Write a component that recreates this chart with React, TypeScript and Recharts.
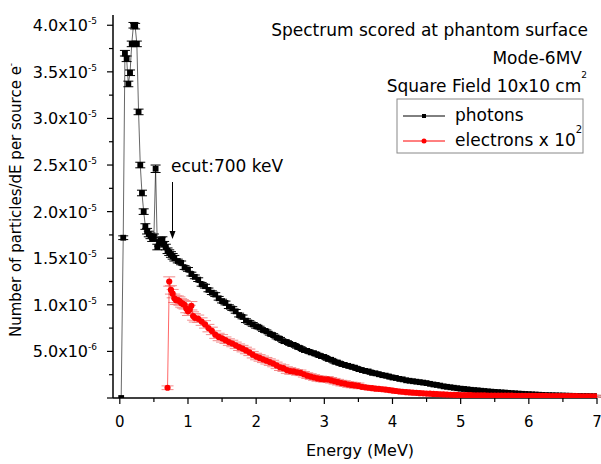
import React from 'react';
import { ComposedChart, Scatter, XAxis, YAxis, ErrorBar } from 'recharts';

const FONT = '"DejaVu Sans", "Liberation Sans", Arial, sans-serif';

// Energy bins (MeV) and values in units of 1e-5 particles/dE per source electron
const photonEnergy = [
  0.02, 0.05, 0.075, 0.1, 0.125, 0.15, 0.175, 0.2, 0.225, 0.25,
  0.275, 0.3, 0.325, 0.35, 0.375, 0.4, 0.425, 0.45, 0.475, 0.5,
  0.525, 0.55, 0.575, 0.6, 0.625, 0.65, 0.675, 0.7, 0.725, 0.75,
  0.775, 0.8,
  0.85, 0.9, 0.95, 1.0, 1.05, 1.1, 1.15, 1.2, 1.25, 1.3,
  1.35, 1.4, 1.45, 1.5, 1.55, 1.6, 1.65, 1.7, 1.75, 1.8,
  1.85, 1.9, 1.95, 2.0, 2.05, 2.1, 2.15, 2.2, 2.25, 2.3,
  2.35, 2.4, 2.45, 2.5, 2.55, 2.6, 2.65, 2.7, 2.75, 2.8,
  2.85, 2.9, 2.95, 3.0, 3.05, 3.1, 3.15, 3.2, 3.25, 3.3,
  3.35, 3.4, 3.45, 3.5, 3.55, 3.6, 3.65, 3.7, 3.75, 3.8,
  3.85, 3.9, 3.95, 4.0, 4.05, 4.1, 4.15, 4.2, 4.25, 4.3,
  4.35, 4.4, 4.45, 4.5, 4.55, 4.6, 4.65, 4.7, 4.75, 4.8,
  4.85, 4.9, 4.95, 5.0, 5.05, 5.1, 5.15, 5.2, 5.25, 5.3,
  5.35, 5.4, 5.45, 5.5, 5.55, 5.6, 5.65, 5.7, 5.75, 5.8,
  5.85, 5.9, 5.95, 6.0, 6.05, 6.1, 6.15, 6.2, 6.25, 6.3,
  6.35, 6.4, 6.45, 6.5, 6.55, 6.6, 6.65, 6.7, 6.75, 6.8,
  6.85, 6.9, 6.95, 7.0,
];
const photonFlux = [
  0.0, 1.72, 3.7, 3.64, 3.37, 3.49, 3.8, 4.0, 3.99, 3.8,
  3.07, 2.5, 2.2, 2.0, 1.84, 1.79, 1.76, 1.74, 1.71, 1.73,
  2.46, 1.62, 1.66, 1.69, 1.7, 1.65, 1.62, 1.58, 1.56, 1.54,
  1.52, 1.5,
  1.47, 1.45, 1.4, 1.38, 1.33, 1.3, 1.27, 1.22, 1.2, 1.16,
  1.13, 1.11, 1.07, 1.04, 1.02, 0.98, 0.96, 0.93, 0.89, 0.87,
  0.83, 0.81, 0.79, 0.77, 0.755, 0.73, 0.715, 0.69, 0.675, 0.65,
  0.635, 0.61, 0.6, 0.58, 0.57, 0.55, 0.535, 0.515, 0.505, 0.49,
  0.48, 0.465, 0.45, 0.44, 0.42, 0.41, 0.39, 0.38, 0.365, 0.355,
  0.345, 0.335, 0.325, 0.31, 0.3, 0.29, 0.285, 0.27, 0.265, 0.255,
  0.245, 0.24, 0.23, 0.22, 0.215, 0.205, 0.2, 0.19, 0.185, 0.18,
  0.175, 0.17, 0.165, 0.16, 0.152, 0.145, 0.14, 0.133, 0.125, 0.12,
  0.115, 0.11, 0.105, 0.1, 0.097, 0.093, 0.088, 0.085, 0.082, 0.078,
  0.075, 0.071, 0.068, 0.065, 0.063, 0.06, 0.058, 0.055, 0.052, 0.05,
  0.047, 0.045, 0.043, 0.041, 0.039, 0.037, 0.035, 0.033, 0.031, 0.03,
  0.029, 0.028, 0.027, 0.026, 0.025, 0.024, 0.023, 0.022, 0.021, 0.02,
  0.02, 0.019, 0.018, 0.018,
];
const photonErr = [
  0.0, 0.02, 0.03, 0.03, 0.03, 0.03, 0.03, 0.03, 0.03, 0.03,
  0.03, 0.03, 0.03, 0.03, 0.03, 0.03, 0.03, 0.03, 0.03, 0.03,
  0.04, 0.03, 0.03, 0.03, 0.03, 0.03, 0.03, 0.03, 0.03, 0.03,
  0.03, 0.03,
  0.02, 0.02, 0.02, 0.02, 0.02, 0.02, 0.02, 0.02, 0.02, 0.02,
  0.02, 0.02, 0.02, 0.02, 0.02, 0.02, 0.02, 0.02, 0.02, 0.02,
  0.02, 0.02, 0.02, 0.02, 0.015, 0.015, 0.015, 0.015, 0.015, 0.015,
  0.015, 0.015, 0.015, 0.015, 0.015, 0.015, 0.015, 0.015, 0.015, 0.015,
  0.015, 0.015, 0.015, 0.015, 0.015, 0.015, 0.015, 0.015, 0.015, 0.015,
  0.015, 0.015, 0.015, 0.015, 0.015, 0.015, 0.015, 0.015, 0.015, 0.015,
  0.015, 0.015, 0.015, 0.015, 0.01, 0.01, 0.01, 0.01, 0.01, 0.01,
  0.01, 0.01, 0.01, 0.01, 0.01, 0.01, 0.01, 0.01, 0.01, 0.01,
  0.01, 0.01, 0.01, 0.01, 0.01, 0.01, 0.01, 0.01, 0.01, 0.01,
  0.01, 0.01, 0.01, 0.01, 0.01, 0.01, 0.01, 0.01, 0.01, 0.01,
  0.01, 0.01, 0.01, 0.01, 0.01, 0.01, 0.01, 0.01, 0.01, 0.01,
  0.01, 0.01, 0.01, 0.01, 0.01, 0.01, 0.01, 0.01, 0.01, 0.01,
  0.01, 0.01, 0.01, 0.01,
];

const electronEnergy = [
  0.7, 0.725, 0.75, 0.775, 0.8, 0.825, 0.85, 0.875, 0.9, 0.925,
  0.95, 0.975, 1.0, 1.025, 1.05, 1.075, 1.1,
  1.15, 1.2, 1.25, 1.3, 1.35, 1.4, 1.45, 1.5, 1.55, 1.6,
  1.65, 1.7, 1.75, 1.8, 1.85, 1.9, 1.95, 2.0, 2.05, 2.1,
  2.15, 2.2, 2.25, 2.3, 2.35, 2.4, 2.45, 2.5, 2.55, 2.6,
  2.65, 2.7, 2.75, 2.8, 2.85, 2.9, 2.95, 3.0, 3.05, 3.1,
  3.15, 3.2, 3.25, 3.3, 3.35, 3.4, 3.45, 3.5, 3.55, 3.6,
  3.65, 3.7, 3.75, 3.8, 3.85, 3.9, 3.95, 4.0, 4.05, 4.1,
  4.15, 4.2, 4.25, 4.3, 4.35, 4.4, 4.45, 4.5, 4.55, 4.6,
  4.65, 4.7, 4.75, 4.8, 4.85, 4.9, 4.95, 5.0, 5.05, 5.1,
  5.15, 5.2, 5.25, 5.3, 5.35, 5.4, 5.45, 5.5, 5.55, 5.6,
  5.65, 5.7, 5.75, 5.8, 5.85, 5.9, 5.95, 6.0, 6.05, 6.1,
  6.15, 6.2, 6.25, 6.3, 6.35, 6.4, 6.45, 6.5, 6.55, 6.6,
  6.65, 6.7, 6.75, 6.8, 6.85, 6.9, 6.95, 7.0,
];
const electronFlux = [
  0.11, 1.25, 1.16, 1.12, 1.07, 1.05, 1.05, 1.04, 1.02, 1.01,
  1.0, 0.96, 0.93, 0.95, 0.99, 0.88, 0.86,
  0.85, 0.82, 0.79, 0.75, 0.72, 0.68, 0.655, 0.64, 0.62, 0.6,
  0.585, 0.565, 0.545, 0.53, 0.51, 0.49, 0.465, 0.445, 0.43, 0.415,
  0.4, 0.385, 0.37, 0.35, 0.33, 0.32, 0.3, 0.29, 0.285, 0.275,
  0.27, 0.255, 0.24, 0.23, 0.22, 0.21, 0.205, 0.2, 0.2, 0.19,
  0.18, 0.17, 0.16, 0.155, 0.145, 0.14, 0.135, 0.13, 0.12, 0.115,
  0.11, 0.105, 0.1, 0.098, 0.094, 0.09, 0.085, 0.08, 0.075, 0.07,
  0.067, 0.063, 0.06, 0.057, 0.055, 0.052, 0.05, 0.048, 0.046, 0.044,
  0.042, 0.04, 0.038, 0.037, 0.035, 0.034, 0.033, 0.032, 0.031, 0.03,
  0.03, 0.029, 0.029, 0.028, 0.028, 0.027, 0.027, 0.026, 0.026, 0.026,
  0.025, 0.025, 0.025, 0.024, 0.024, 0.024, 0.023, 0.023, 0.023, 0.022,
  0.022, 0.022, 0.022, 0.021, 0.021, 0.021, 0.021, 0.02, 0.02, 0.02,
  0.02, 0.02, 0.019, 0.019, 0.019, 0.019, 0.018, 0.018,
];
const electronErr = [
  0.02, 0.05, 0.045, 0.045, 0.045, 0.045, 0.045, 0.045, 0.045, 0.045,
  0.045, 0.045, 0.045, 0.045, 0.045, 0.045, 0.045,
  0.04, 0.04, 0.04, 0.04, 0.04, 0.04, 0.04, 0.04, 0.035, 0.035,
  0.035, 0.035, 0.035, 0.035, 0.035, 0.035, 0.035, 0.035, 0.035, 0.035,
  0.035, 0.035, 0.035, 0.035, 0.035, 0.035, 0.035, 0.035, 0.03, 0.03,
  0.03, 0.03, 0.03, 0.03, 0.03, 0.03, 0.03, 0.03, 0.03, 0.03,
  0.03, 0.03, 0.03, 0.03, 0.03, 0.03, 0.03, 0.03, 0.02, 0.02,
  0.02, 0.02, 0.02, 0.02, 0.02, 0.02, 0.02, 0.02, 0.02, 0.02,
  0.02, 0.02, 0.02, 0.02, 0.02, 0.02, 0.02, 0.02, 0.02, 0.02,
  0.02, 0.02, 0.02, 0.02, 0.02, 0.02, 0.01, 0.01, 0.01, 0.01,
  0.01, 0.01, 0.01, 0.01, 0.01, 0.01, 0.01, 0.01, 0.01, 0.01,
  0.01, 0.01, 0.01, 0.01, 0.01, 0.01, 0.01, 0.01, 0.01, 0.01,
  0.01, 0.01, 0.01, 0.01, 0.01, 0.01, 0.01, 0.01, 0.01, 0.01,
  0.01, 0.01, 0.01, 0.01, 0.01, 0.01, 0.01, 0.01,
];

const xTicks = [0, 0.5, 1, 1.5, 2, 2.5, 3, 3.5, 4, 4.5, 5, 5.5, 6, 6.5, 7];
const yTicks = [0, 0.25, 0.5, 0.75, 1, 1.25, 1.5, 1.75, 2, 2.25, 2.5, 2.75, 3, 3.25, 3.5, 3.75, 4];

const photonData = photonEnergy.map((x, i) => ({ x, y: photonFlux[i], err: photonErr[i] }));
const electronData = electronEnergy.map((x, i) => ({ x, y: electronFlux[i], err: electronErr[i] }));

const isInt = (v: number) => Math.abs(v - Math.round(v)) < 1e-9;
const isHalf = (v: number) => Math.abs(v * 2 - Math.round(v * 2)) < 1e-9;

function BottomTick(props: any) {
  const { x, y, payload } = props;
  const v = payload.value;
  const major = isInt(v);
  return (
    <g>
      <line x1={x} x2={x} y1={y} y2={y + (major ? 6 : 4)} stroke="#000" strokeWidth={1.2} />
      {major && (
        <text x={x} y={y + 29} textAnchor="middle" fontSize={15} fontFamily={FONT} fill="#000">
          {v}
        </text>
      )}
    </g>
  );
}

function TopTick(props: any) {
  const { x, y, payload } = props;
  const major = isInt(payload.value);
  return <line x1={x} x2={x} y1={y} y2={y + (major ? 5 : 4)} stroke="#000" strokeWidth={1.2} />;
}

function LeftTick(props: any) {
  const { x, y, payload } = props;
  const v = payload.value;
  const major = isHalf(v);
  let label = null;
  if (major && v > 0) {
    const mant = v >= 1 ? v : v * 10;
    const exp = v >= 1 ? '-5' : '-6';
    label = (
      <text x={x - 16} y={y + 6} textAnchor="end" fontSize={16} fontFamily={FONT} fill="#000">
        {mant.toFixed(1)}x10
        <tspan dy={-7} fontSize={9}>{exp}</tspan>
      </text>
    );
  }
  return (
    <g>
      <line x1={x - (major ? 6 : 4)} x2={x} y1={y} y2={y} stroke="#000" strokeWidth={1.2} />
      {label}
    </g>
  );
}

function RightTick(props: any) {
  const { x, y } = props;
  return <line x1={x - 5} x2={x} y1={y} y2={y} stroke="#000" strokeWidth={1.2} />;
}

const PhotonMarker = (p: any) => (
  <rect x={p.cx - 2.9} y={p.cy - 2.9} width={5.8} height={5.8} fill="#000" />
);
const ElectronMarker = (p: any) => <circle cx={p.cx} cy={p.cy} r={3.1} fill="#ff0000" />;

const axisLine = { stroke: '#000', strokeWidth: 1.5 };

export default function App() {
  return (
    <div style={{ position: 'absolute', left: 0, top: 0, width: 601, height: 464, background: '#fff' }}>
      <ComposedChart width={601} height={464} margin={{ top: 15, right: 4, bottom: 0, left: 0 }}>
        <XAxis
          xAxisId="b"
          dataKey="x"
          type="number"
          domain={[-0.1, 7]}
          ticks={xTicks}
          interval={0}
          height={66}
          tickSize={0}
          tickMargin={0}
          tickLine={false}
          tick={BottomTick}
          axisLine={axisLine}
          allowDataOverflow
        />
        <XAxis
          xAxisId="t"
          orientation="top"
          dataKey="x"
          type="number"
          domain={[-0.1, 7]}
          ticks={xTicks}
          interval={0}
          height={0}
          tickSize={0}
          tickMargin={0}
          tickLine={false}
          tick={TopTick}
          axisLine={axisLine}
          allowDataOverflow
        />
        <YAxis
          yAxisId="l"
          dataKey="y"
          type="number"
          domain={[0, 4.11]}
          ticks={yTicks}
          interval={0}
          width={113}
          tickSize={0}
          tickMargin={0}
          tickLine={false}
          tick={LeftTick}
          axisLine={axisLine}
          allowDataOverflow
        />
        <YAxis
          yAxisId="r"
          orientation="right"
          dataKey="y"
          type="number"
          domain={[0, 4.11]}
          ticks={yTicks}
          interval={0}
          width={0}
          tickSize={0}
          tickMargin={0}
          tickLine={false}
          tick={RightTick}
          axisLine={axisLine}
          allowDataOverflow
        />
        <Scatter
          name="photons"
          xAxisId="b"
          yAxisId="l"
          data={photonData}
          dataKey="y"
          line={{ stroke: '#000', strokeWidth: 0.6 }}
          shape={PhotonMarker}
          isAnimationActive={false}
        >
          <ErrorBar dataKey="err" direction="y" width={5} stroke="#000" strokeWidth={1} />
        </Scatter>
        <Scatter
          name="electrons x 10^2"
          xAxisId="b"
          yAxisId="l"
          data={electronData}
          dataKey="y"
          line={{ stroke: '#ff0000', strokeWidth: 0.6 }}
          shape={ElectronMarker}
          isAnimationActive={false}
        >
          <ErrorBar dataKey="err" direction="y" width={6} stroke="#f28a8a" strokeWidth={1} />
        </Scatter>

        {/* axis titles */}
        <text x={360} y={456} textAnchor="middle" fontSize={16} fontFamily={FONT} fill="#000">
          Energy (MeV)
        </text>
        <text
          transform="translate(21,200) rotate(-90)"
          textAnchor="middle"
          fontSize={15}
          fontFamily={FONT}
          fill="#000"
        >
          Number of particles/dE per source e
          <tspan dy={-7} fontSize={9}>-</tspan>
        </text>

        {/* annotations */}
        <text x={588} y={36} textAnchor="end" fontSize={17} fontFamily={FONT} fill="#000">
          Spectrum scored at phantom surface
        </text>
        <text x={582} y={64} textAnchor="end" fontSize={17} fontFamily={FONT} fill="#000">
          Mode-6MV
        </text>
        <text x={587} y={92} textAnchor="end" fontSize={17} fontFamily={FONT} fill="#000">
          Square Field 10x10 cm
          <tspan dy={-14} fontSize={9}>2</tspan>
        </text>
        <text x={171} y={172} fontSize={17} fontFamily={FONT} fill="#000">
          ecut:700 keV
        </text>
        <line x1={172.5} x2={172.5} y1={182} y2={233} stroke="#000" strokeWidth={1} />
        <polygon points="169.5,231 175.5,231 172.5,239" fill="#000" />

        {/* legend */}
        <rect x={397} y={99} width={186} height={54} fill="#fff" stroke="#888" strokeWidth={1} />
        <line x1={403} x2={445} y1={116} y2={116} stroke="#000" strokeWidth={1} />
        <rect x={422} y={114} width={4} height={4} fill="#000" />
        <text x={455} y={121} fontSize={17} fontFamily={FONT} fill="#000">
          photons
        </text>
        <line x1={403} x2={445} y1={141} y2={141} stroke="#ff0000" strokeWidth={1} />
        <circle cx={424} cy={141} r={2.5} fill="#ff0000" />
        <text x={455} y={146} fontSize={17} fontFamily={FONT} fill="#000">
          electrons x 10
          <tspan dy={-13} fontSize={10}>2</tspan>
        </text>
      </ComposedChart>
    </div>
  );
}
